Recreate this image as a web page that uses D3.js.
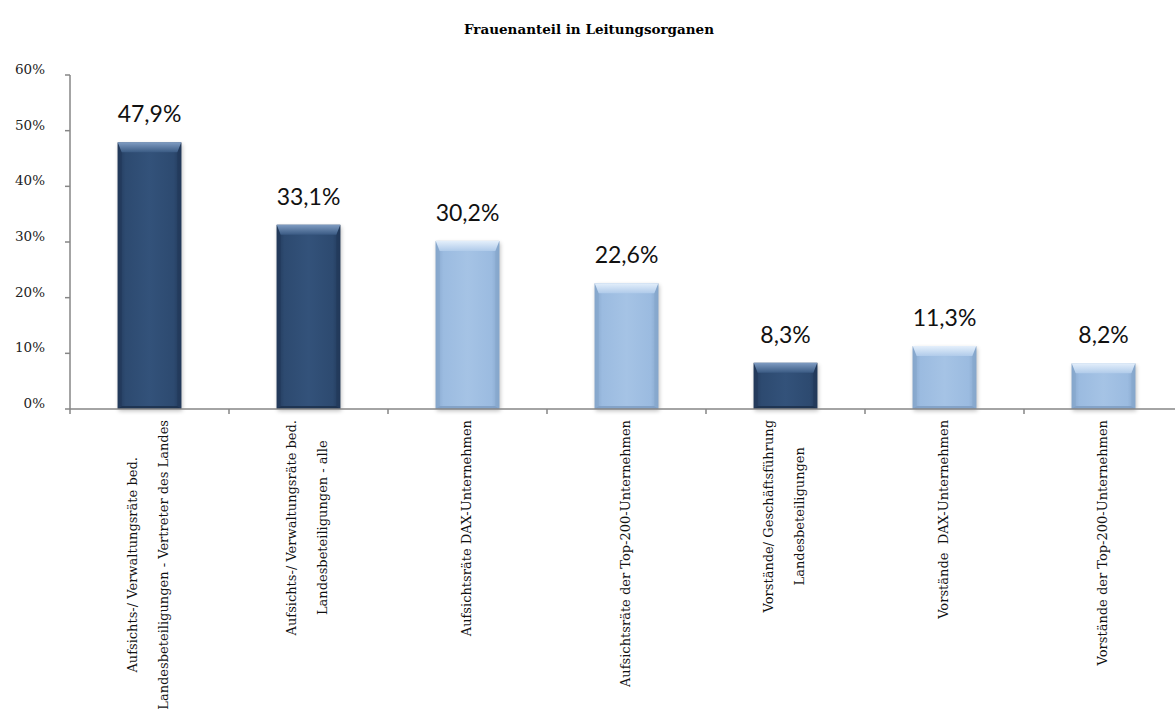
<!DOCTYPE html>
<html>
<head>
<meta charset="utf-8">
<script src="https://cdn.jsdelivr.net/npm/d3@7"></script>
<style>
  html, body { margin: 0; padding: 0; background: #fff; }
  svg { display: block; }
</style>
</head>
<body>
<svg id="chart" width="1175" height="714"></svg>
<script>
// Frauenanteil in Leitungsorganen
const categories = [
  ["Aufsichts-/ Verwaltungsräte bed.", "Landesbeteiligungen - Vertreter des Landes"],
  ["Aufsichts-/ Verwaltungsräte bed.", "Landesbeteiligungen - alle"],
  ["Aufsichtsräte DAX-Unternehmen"],
  ["Aufsichtsräte der Top-200-Unternehmen"],
  ["Vorstände/ Geschäftsführung", "Landesbeteiligungen"],
  ["Vorstände  DAX-Unternehmen"],
  ["Vorstände der Top-200-Unternehmen"]
];
const values = [0.479, 0.331, 0.302, 0.226, 0.083, 0.113, 0.082];
const groups = ["land", "land", "ref", "ref", "land", "ref", "ref"];
const yTicks = [0, 0.1, 0.2, 0.3, 0.4, 0.5, 0.6];
const titleText = "Frauenanteil in Leitungsorganen";

const svg = d3.select("#chart");
const x0 = 70, x1 = 1183, yBase = 409, yTop = 75;
const serif = "'DejaVu Serif', serif";

const x = d3.scaleBand()
  .domain(d3.range(categories.length))
  .range([x0, x1])
  .paddingInner(0.6)
  .paddingOuter(0.3);
const step = x.step();
const y = d3.scaleLinear().domain([0, 0.6]).range([yBase, yTop]);

const fmt = v => d3.format(".1f")(v * 100).replace(".", ",") + "%";

// gradients for the bevelled bars
const defs = svg.append("defs");
const palette = {
  land: { base: "#2d4a70", edge: "#22395a", mid: "#33527a", top: "#7f9cc2", topLow: "#3a5a83", bottom: "#1c2f4b" },
  ref:  { base: "#9bbbe0", edge: "#86a6cc", mid: "#a5c3e5", top: "#e4effb", topLow: "#b0cbea", bottom: "#7d9cc2" }
};
Object.entries(palette).forEach(([k, c]) => {
  const h = defs.append("linearGradient").attr("id", "body-" + k).attr("x1", 0).attr("x2", 1).attr("y1", 0).attr("y2", 0);
  h.append("stop").attr("offset", 0).attr("stop-color", c.edge);
  h.append("stop").attr("offset", 0.12).attr("stop-color", c.base);
  h.append("stop").attr("offset", 0.5).attr("stop-color", c.mid);
  h.append("stop").attr("offset", 0.88).attr("stop-color", c.base);
  h.append("stop").attr("offset", 1).attr("stop-color", c.edge);
  const t = defs.append("linearGradient").attr("id", "top-" + k).attr("x1", 0).attr("x2", 0).attr("y1", 0).attr("y2", 1);
  t.append("stop").attr("offset", 0).attr("stop-color", c.top);
  t.append("stop").attr("offset", 1).attr("stop-color", c.topLow);
});
const blur = defs.append("filter").attr("id", "shadow").attr("x", "-20%").attr("y", "-5%").attr("width", "140%").attr("height", "115%");
blur.append("feGaussianBlur").attr("stdDeviation", 2);

// title
svg.append("text")
  .attr("x", 589).attr("y", 34)
  .attr("text-anchor", "middle")
  .attr("font-family", serif)
  .attr("font-weight", "bold")
  .attr("font-size", 13.5)
  .attr("fill", "#000")
  .text(titleText);

// y axis
const axisColor = "#868686";
const yAxis = svg.append("g");
yAxis.append("line").attr("x1", x0).attr("x2", x0).attr("y1", yTop).attr("y2", yBase).attr("stroke", axisColor).attr("stroke-width", 1.5);
yAxis.selectAll("line.tick").data(yTicks).join("line").attr("class", "tick")
  .attr("x1", x0 - 5).attr("x2", x0).attr("y1", d => y(d)).attr("y2", d => y(d))
  .attr("stroke", axisColor).attr("stroke-width", 1.5);
yAxis.selectAll("text").data(yTicks).join("text")
  .attr("x", 45).attr("y", d => y(d) - 1)
  .attr("text-anchor", "end")
  .attr("font-family", serif)
  .attr("font-size", 13.5)
  .attr("fill", "#222")
  .text(d => Math.round(d * 100) + "%");

// bars
const bars = svg.append("g");
const bw = x.bandwidth();
const bev = 10, side = 4;
values.forEach((v, i) => {
  const g = bars.append("g");
  const c = palette[groups[i]];
  const bx = x(i), by = y(v), bh = yBase - by;
  g.append("rect").attr("x", bx + 1).attr("y", by + 2).attr("width", bw).attr("height", bh)
    .attr("fill", "#000").attr("opacity", 0.25).attr("filter", "url(#shadow)");
  g.append("rect").attr("x", bx).attr("y", by).attr("width", bw).attr("height", bh)
    .attr("fill", `url(#body-${groups[i]})`);
  const b = Math.min(bev, bh / 2);
  // side bevels
  g.append("path")
    .attr("d", `M${bx},${by} L${bx + side},${by + b} L${bx + side},${yBase - 3} L${bx},${yBase} Z`)
    .attr("fill", c.edge).attr("opacity", 0.7);
  g.append("path")
    .attr("d", `M${bx + bw},${by} L${bx + bw - side},${by + b} L${bx + bw - side},${yBase - 3} L${bx + bw},${yBase} Z`)
    .attr("fill", c.edge).attr("opacity", 0.7);
  // top bevel
  g.append("path")
    .attr("d", `M${bx},${by} L${bx + bw},${by} L${bx + bw - side},${by + b} L${bx + side},${by + b} Z`)
    .attr("fill", `url(#top-${groups[i]})`);
  // bottom bevel
  g.append("path")
    .attr("d", `M${bx},${yBase} L${bx + bw},${yBase} L${bx + bw - side},${yBase - 3} L${bx + side},${yBase - 3} Z`)
    .attr("fill", c.bottom).attr("opacity", 0.8);
});

// value labels
svg.append("g").selectAll("text").data(values).join("text")
  .attr("x", (d, i) => x(i) + bw / 2)
  .attr("y", d => y(d) - 20)
  .attr("text-anchor", "middle")
  .attr("font-family", "Lato, sans-serif")
  .attr("font-size", 23)
  .attr("fill", "#111")
  .text(fmt);

// x axis
const xAxis = svg.append("g");
xAxis.append("line").attr("x1", x0).attr("x2", x1).attr("y1", yBase).attr("y2", yBase).attr("stroke", axisColor).attr("stroke-width", 1.5);
const bounds = d3.range(categories.length + 1).map(i => x0 + i * step);
xAxis.selectAll("line.tick").data(bounds).join("line").attr("class", "tick")
  .attr("x1", d => d).attr("x2", d => d).attr("y1", yBase).attr("y2", yBase + 5)
  .attr("stroke", axisColor).attr("stroke-width", 1.5);

// rotated category labels, block anchored below the axis, lines centred in the block
const labelTop = 420, lineGap = 31;
categories.forEach((lines, i) => {
  const cx = x(i) + bw / 2;
  const g = svg.append("g");
  const texts = lines.map((ln, j) => {
    const off = (j - (lines.length - 1) / 2) * lineGap + 3;
    return g.append("text")
      .attr("font-family", serif)
      .attr("font-size", 13)
      .attr("fill", "#111")
      .style("white-space", "pre")
      .attr("text-anchor", "middle")
      .attr("data-off", off)
      .text(ln);
  });
  const maxW = d3.max(texts, t => t.node().getComputedTextLength());
  const cy = labelTop + maxW / 2;
  texts.forEach(t => {
    const off = +t.attr("data-off");
    t.attr("transform", `translate(${cx + off},${cy}) rotate(-90)`);
  });
});
</script>
</body>
</html>
